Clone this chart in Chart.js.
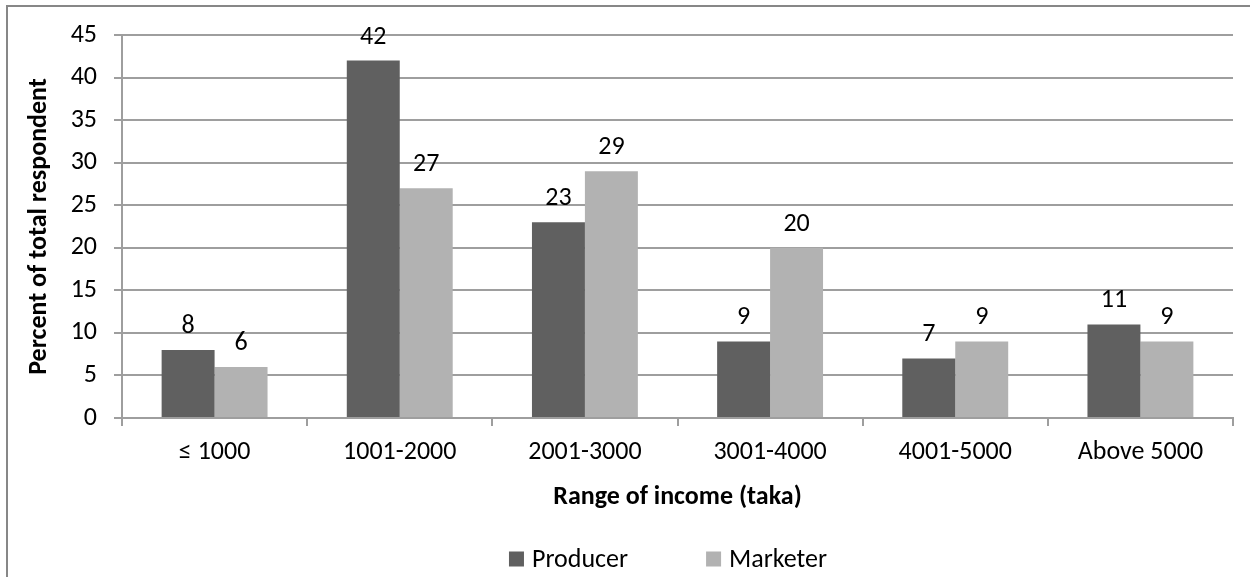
<!DOCTYPE html>
<html>
<head>
<meta charset="utf-8">
<script src="https://cdn.jsdelivr.net/npm/chart.js@4"></script>
<style>
  body { margin: 0; background: #fff; }
  .frame { position: absolute; left: 6px; top: 5px; width: 1300px; height: 600px;
           border-left: 2px solid #878787; border-top: 2px solid #878787; }
  #chart { position: absolute; left: 0; top: 0; }
</style>
</head>
<body>
<div class="frame"></div>
<canvas id="chart" width="1250" height="577"></canvas>
<script>
const incomeRanges = ['≤ 1000', '1001-2000', '2001-3000', '3001-4000', '4001-5000', 'Above 5000'];
const producerPct  = [8, 42, 23, 9, 7, 11];
const marketerPct  = [6, 27, 29, 20, 9, 9];
const yTicks = { min: 0, max: 45, step: 5 };

const FONT = 'Carlito, Calibri, Lato, sans-serif';
const GRID = '#9e9e9e';

// value above each bar
const barValues = {
  id: 'barValues',
  afterDatasetsDraw(chart) {
    const ctx = chart.ctx;
    ctx.save();
    ctx.font = `26px ${FONT}`;
    ctx.fillStyle = '#000';
    ctx.textAlign = 'center';
    ctx.textBaseline = 'alphabetic';
    chart.data.datasets.forEach((ds, i) => {
      chart.getDatasetMeta(i).data.forEach((bar, j) => {
        ctx.fillText(ds.data[j], bar.x, bar.y - 17);
      });
    });
    ctx.restore();
  }
};

// legend row under the axis title
const bottomLegend = {
  id: 'bottomLegend',
  afterDraw(chart) {
    const ctx = chart.ctx;
    const box = 15, gap = 8, itemGap = 78, cy = 559;
    ctx.save();
    ctx.font = `26px ${FONT}`;
    ctx.textBaseline = 'middle';
    const items = chart.data.datasets.map(ds => ({
      text: ds.label, color: ds.backgroundColor, w: ctx.measureText(ds.label).width
    }));
    const total = items.reduce((s, it) => s + box + gap + it.w, 0) + itemGap * (items.length - 1);
    let x = 668 - total / 2;
    items.forEach(it => {
      ctx.fillStyle = it.color;
      ctx.fillRect(x, cy - box / 2, box, box);
      ctx.fillStyle = '#000';
      ctx.fillText(it.text, x + box + gap, cy + 1);
      x += box + gap + it.w + itemGap;
    });
    ctx.restore();
  }
};

new Chart(document.getElementById('chart'), {
  type: 'bar',
  data: {
    labels: incomeRanges,
    datasets: [
      { label: 'Producer', data: producerPct, backgroundColor: '#606060' },
      { label: 'Marketer', data: marketerPct, backgroundColor: '#b2b2b2' },
    ],
  },
  options: {
    responsive: false,
    animation: false,
    categoryPercentage: 0.572,
    barPercentage: 1,
    layout: { padding: { left: 20, right: 17, top: 35, bottom: 0 } },
    plugins: {
      legend: { display: false },
      tooltip: { enabled: false },
    },
    scales: {
      x: {
        grid: { offset: true, drawOnChartArea: false, color: GRID, lineWidth: 2, tickLength: 8 },
        border: { color: GRID, width: 2 },
        ticks: { color: '#000', font: { family: FONT, size: 26 }, padding: 11, maxRotation: 0 },
        title: {
          display: true, text: 'Range of income (taka)', color: '#000',
          font: { family: FONT, size: 26, weight: 'bold' }, padding: { top: 4, bottom: 64 }
        },
        afterFit(scale) { scale.height = 159; },
      },
      y: {
        min: yTicks.min,
        max: yTicks.max,
        grid: { color: GRID, lineWidth: 2, tickLength: 8 },
        border: { color: GRID, width: 2 },
        ticks: { stepSize: yTicks.step, color: '#000', font: { family: FONT, size: 26 }, padding: 17 },
        title: {
          display: true, text: 'Percent of total respondent', color: '#000',
          font: { family: FONT, size: 26, weight: 'bold' }, padding: { top: 4, bottom: 4 }
        },
        afterFit(scale) { scale.width = 102; },
      },
    },
  },
  plugins: [barValues, bottomLegend],
});
</script>
</body>
</html>
